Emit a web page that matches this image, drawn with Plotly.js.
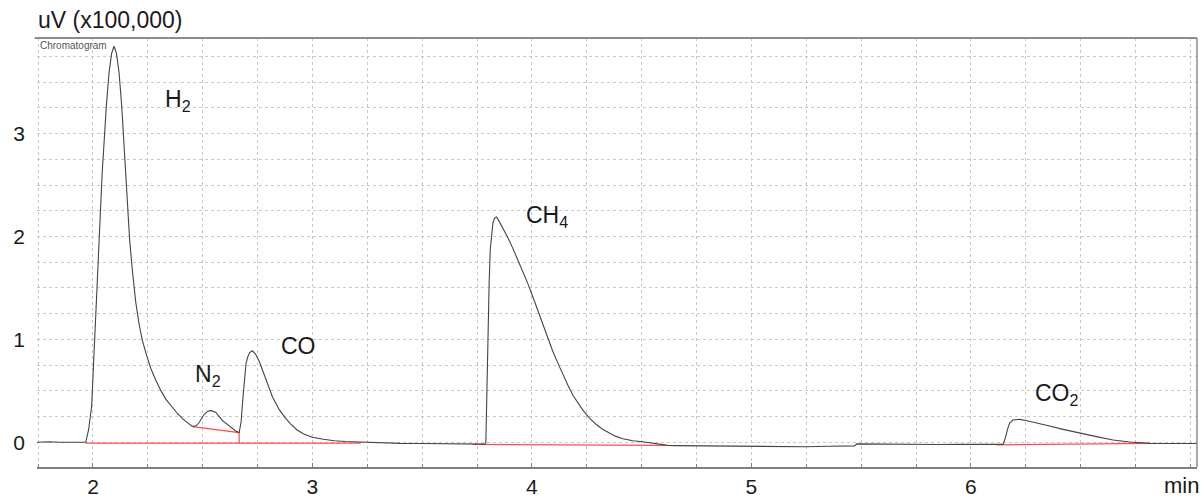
<!DOCTYPE html>
<html>
<head>
<meta charset="utf-8">
<script src="https://cdn.plot.ly/plotly-3.0.1.min.js"></script>
<style>html,body{margin:0;padding:0;background:#fff;}#chart{width:1203px;height:497px;}</style>
</head>
<body>
<div id="chart"></div>
<script>
// Retention time (min) and detector signal (uV x100,000)
const time = [1.74,1.80,1.85,1.90,1.94,1.967,1.98,1.994,2.001,2.015,2.027,2.042,2.061,2.073,2.085,2.096,2.107,2.119,2.131,2.149,2.167,2.18,2.195,2.21,2.225,2.245,2.263,2.285,2.31,2.335,2.36,2.385,2.41,2.43,2.453,
  2.47,2.483,2.506,2.522,2.537,2.56,2.59,2.62,2.651,2.666,
  2.675,2.682,2.689,2.697,2.705,2.715,2.726,2.74,2.757,2.775,2.795,2.818,2.848,2.875,2.90,2.93,2.96,3.00,3.05,3.10,3.15,3.20,3.30,3.40,3.50,3.60,3.70,3.76,3.785,
  3.79,3.795,3.80,3.805,3.81,3.816,3.822,3.83,3.838,3.85,3.866,3.89,3.912,3.935,3.958,3.98,4.003,4.025,4.049,4.07,4.094,4.12,4.14,4.165,4.186,4.21,4.231,4.26,4.292,4.32,4.353,4.38,4.414,4.46,4.505,4.55,4.596,4.62,
  4.65,4.75,4.85,4.95,5.05,5.15,5.25,5.35,5.45,5.47,5.48,5.55,5.65,5.75,5.85,5.95,6.05,6.12,
  6.146,6.155,6.162,6.17,6.177,6.185,6.192,6.21,6.223,6.25,6.283,6.344,6.42,6.496,6.572,6.648,6.724,6.815,6.87,6.92,6.97,7.03];
const signal = [0.0,0.005,0.0,0.003,0.0,0.0,0.12,0.35,0.68,1.32,1.97,2.62,3.27,3.59,3.78,3.85,3.78,3.59,3.27,2.62,1.97,1.66,1.36,1.15,0.99,0.84,0.72,0.61,0.50,0.41,0.34,0.28,0.225,0.19,0.155,
  0.16,0.19,0.27,0.30,0.31,0.29,0.21,0.16,0.11,0.094,
  0.20,0.40,0.61,0.76,0.83,0.875,0.89,0.86,0.79,0.69,0.56,0.44,0.32,0.24,0.18,0.12,0.08,0.05,0.03,0.015,0.008,0.003,-0.005,-0.01,-0.012,-0.015,-0.02,-0.02,-0.018,
  0.0,0.6,1.1,1.55,1.87,2.05,2.13,2.18,2.19,2.15,2.09,1.99,1.89,1.78,1.67,1.55,1.42,1.29,1.15,1.02,0.89,0.76,0.66,0.55,0.46,0.38,0.315,0.24,0.175,0.13,0.09,0.06,0.035,0.015,0.005,-0.01,-0.025,-0.03,
  -0.032,-0.035,-0.038,-0.04,-0.042,-0.04,-0.043,-0.038,-0.036,-0.035,-0.015,-0.017,-0.02,-0.018,-0.022,-0.02,-0.022,-0.025,
  -0.02,0.03,0.094,0.15,0.19,0.21,0.217,0.222,0.223,0.212,0.197,0.165,0.126,0.087,0.055,0.022,0.003,-0.01,-0.012,-0.015,-0.01,-0.012];

// Integration baselines (red)
const baseTime = [1.967,3.22,null,2.453,2.666,2.666,null,3.73,4.61,null,6.116,6.815];
const baseVal  = [-0.008,-0.008,null,0.152,0.094,-0.008,null,-0.02,-0.03,null,-0.025,-0.01];

// Peak labels
const peakNames = ['H<sub>2</sub>','N<sub>2</sub>','CO','CH<sub>4</sub>','CO<sub>2</sub>'];
const peakLabelT = [2.318,2.455,2.848,3.966,6.282];
const peakLabelV = [3.32,0.652,0.935,2.197,0.466];

const yTicks = [0,1,2,3];
const xTicks = [2,3,4,5,6];

const font = 'Liberation Sans, Arial, sans-serif';
const gridStyle = {gridcolor:'#c8c8c8', griddash:'dot', gridwidth:1};

const annotations = peakNames.map((n,i)=>({
  x: peakLabelT[i], y: peakLabelV[i], xref:'x', yref:'y', text:n, showarrow:false,
  xanchor:'left', yanchor:'middle', font:{family:font, size:23, color:'#1a1a1a'}
}));
annotations.push({x:0, y:1, xref:'paper', yref:'paper', text:'Chromatogram', showarrow:false,
  xanchor:'left', yanchor:'top', xshift:1, yshift:0, font:{family:font, size:10, color:'#555'}});
annotations.push({x:1, y:0, xref:'paper', yref:'paper', text:'min', showarrow:false,
  xanchor:'right', yanchor:'middle', xshift:4, yshift:-18, font:{family:font, size:22, color:'#1a1a1a'}});

const data = [
  {x: baseTime, y: baseVal, type:'scatter', mode:'lines', line:{color:'#ff4d4d', width:1.2}, connectgaps:false, hoverinfo:'skip'},
  {x: time, y: signal, type:'scatter', mode:'lines', line:{color:'#444444', width:1.1}}
];

const layout = {
  width:1203, height:497,
  margin:{l:37, r:6, t:38, b:30},
  paper_bgcolor:'#fff', plot_bgcolor:'#fff',
  showlegend:false,
  title:{text:'uV (x100,000)', x:0, xref:'paper', xanchor:'left', y:1-20/497, yref:'container', yanchor:'middle',
    font:{family:font, size:23, color:'#1a1a1a'}, pad:{l:1}},
  xaxis:{range:[1.745,7.03], tickvals:xTicks, showgrid:true, ...gridStyle, zeroline:false,
    showline:true, linecolor:'#808080', linewidth:1.5, ticks:'inside', ticklen:4, tickcolor:'#808080',
    minor:{dtick:0.25, tick0:0, showgrid:true, ...gridStyle, ticks:'inside', ticklen:3, tickcolor:'#808080'},
    tickfont:{family:font, size:21, color:'#1a1a1a'}, ticklabelstandoff:0},
  yaxis:{range:[-0.24,3.93], tickvals:yTicks, showgrid:true, ...gridStyle, zeroline:false,
    showline:false, ticks:'',
    minor:{dtick:0.25, tick0:0, showgrid:true, ...gridStyle},
    tickfont:{family:font, size:21, color:'#1a1a1a'}, ticklabelstandoff:11},
  shapes:[
    {type:'line', xref:'paper', yref:'paper', x0:-0.002, x1:1, y0:1, y1:1, line:{color:'#8c8c8c', width:2}},
    {type:'line', xref:'paper', yref:'paper', x0:1, x1:1, y0:0, y1:1, line:{color:'#8c8c8c', width:1.5}}
  ],
  annotations: annotations
};

Plotly.newPlot('chart', data, layout, {displayModeBar:false, staticPlot:true});
</script>
</body>
</html>
